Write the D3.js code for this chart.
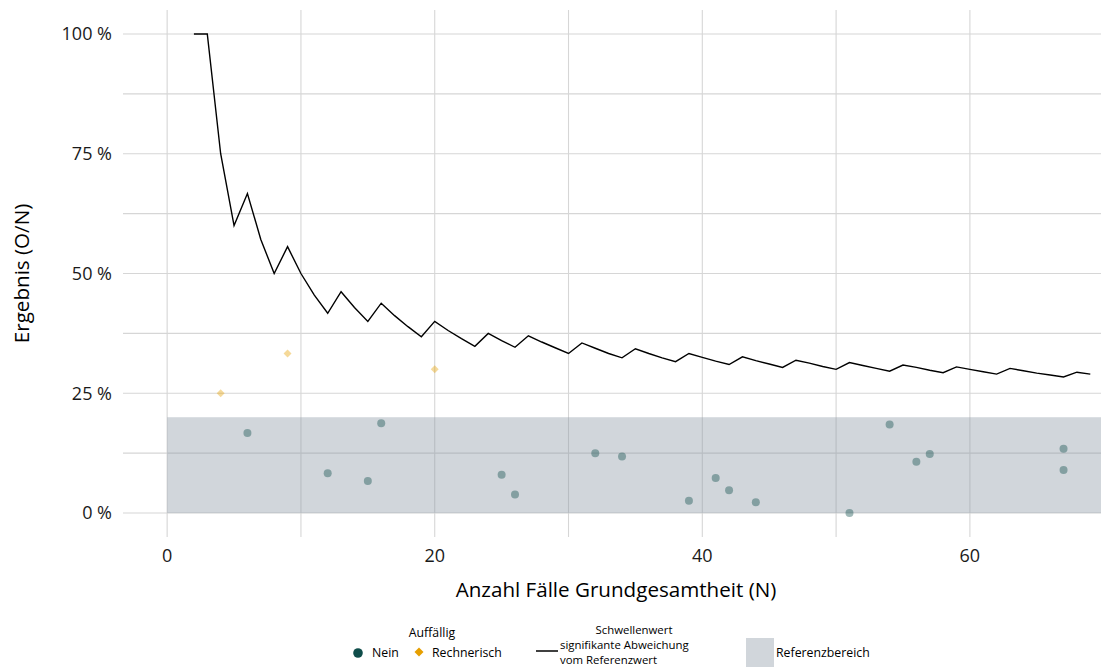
<!DOCTYPE html>
<html>
<head>
<meta charset="utf-8">
<script src="https://cdn.jsdelivr.net/npm/d3@7/dist/d3.min.js"></script>
<style>
  html, body { margin: 0; padding: 0; background: #fff; }
  svg { display: block; font-family: "Open Sans", Lato, sans-serif; }
</style>
</head>
<body>
<svg id="chart" width="1102" height="669"></svg>
<script>
// ---- data ----
const thresholdN = [2,3,4,5,6,7,8,9,10,11,12,13,14,15,16,17,18,19,20,21,22,23,24,25,26,27,28,29,30,31,32,33,34,35,36,37,38,39,40,41,42,43,44,45,46,47,48,49,50,51,52,53,54,55,56,57,58,59,60,61,62,63,64,65,66,67,68,69];
const thresholdValues = [100,100,75,60,66.7,57.1,50,55.6,50,45.5,41.7,46.2,42.9,40,43.8,41.2,38.9,36.8,40,38.1,36.4,34.8,37.5,36,34.6,37,35.7,34.5,33.3,35.5,34.4,33.3,32.4,34.3,33.3,32.4,31.6,33.3,32.5,31.7,31,32.6,31.8,31.1,30.4,31.9,31.3,30.6,30,31.4,30.8,30.2,29.6,30.9,30.4,29.8,29.3,30.5,30,29.5,29,30.2,29.7,29.2,28.8,28.4,29.4,29];

const neinN = [6,12,15,16,25,26,32,34,39,41,42,44,51,54,56,57,67,67];
const neinValues = [16.7,8.3,6.7,18.75,8,3.85,12.5,11.8,2.56,7.3,4.76,2.27,0,18.5,10.7,12.3,13.4,9.0];

const rechN = [4,9,20];
const rechValues = [25,33.3,30];

const referenceRange = [0, 20];

const xTicks = [0,20,40,60];
const xGrid = [0,10,20,30,40,50,60];
const yTicks = [0,25,50,75,100];
const yTickLabels = ["0 %","25 %","50 %","75 %","100 %"];
const yGrid = [0,12.5,25,37.5,50,62.5,75,87.5,100];

const xTitle = "Anzahl Fälle Grundgesamtheit (N)";
const yTitle = "Ergebnis (O/N)";

// ---- layout ----
const svg = d3.select("#chart");
const pLeft = 123, pRight = 1101, pTop = 10, pBottom = 537;
const x = d3.scaleLinear().domain([-3.3, 69.8]).range([pLeft, pRight]);
const y = d3.scaleLinear().domain([-5, 105]).range([pBottom, pTop]);

const gridColor = "#d6d6d6";

// grid
svg.append("g").selectAll("line").data(yGrid).join("line")
  .attr("x1", pLeft).attr("x2", pRight)
  .attr("y1", d => y(d)).attr("y2", d => y(d))
  .attr("stroke", gridColor).attr("stroke-width", 1.1);
svg.append("g").selectAll("line").data(xGrid).join("line")
  .attr("x1", d => x(d)).attr("x2", d => x(d))
  .attr("y1", pTop).attr("y2", pBottom)
  .attr("stroke", gridColor).attr("stroke-width", 1.1);

// reference band
svg.append("rect")
  .attr("x", x(0)).attr("width", pRight - x(0))
  .attr("y", y(referenceRange[1])).attr("height", y(referenceRange[0]) - y(referenceRange[1]))
  .attr("fill", "#8c99a4").attr("fill-opacity", 0.4);

// threshold line
const line = d3.line().x((d,i) => x(thresholdN[i])).y(d => y(d));
svg.append("path").datum(thresholdValues)
  .attr("d", line).attr("fill", "none")
  .attr("stroke", "#000").attr("stroke-width", 1.4).attr("stroke-linejoin", "miter");

// points
svg.append("g").selectAll("circle").data(neinValues).join("circle")
  .attr("cx", (d,i) => x(neinN[i])).attr("cy", d => y(d)).attr("r", 4)
  .attr("fill", "#0f4d4a").attr("fill-opacity", 0.4);

const diamond = d3.symbol().type(d3.symbolDiamond2).size(40);
svg.append("g").selectAll("path").data(rechValues).join("path")
  .attr("transform", (d,i) => `translate(${x(rechN[i])},${y(d)})`)
  .attr("d", diamond)
  .attr("fill", "#e69f00").attr("fill-opacity", 0.4);

// axes labels
svg.append("g").selectAll("text").data(yTicks).join("text")
  .attr("x", 112).attr("y", d => y(d)).attr("dy", "0.35em")
  .attr("text-anchor", "end").attr("font-size", 18).attr("fill", "#1a1a1a")
  .text((d,i) => yTickLabels[i]);
svg.append("g").selectAll("text").data(xTicks).join("text")
  .attr("x", d => x(d)).attr("y", 556).attr("dy", "0.35em")
  .attr("text-anchor", "middle").attr("font-size", 18).attr("fill", "#1a1a1a")
  .text(d => d);

svg.append("text").attr("x", 616).attr("y", 590).attr("dy", "0.35em")
  .attr("text-anchor", "middle").attr("font-size", 20.6).attr("fill", "#000")
  .text(xTitle);
svg.append("text")
  .attr("transform", `translate(22,${(pTop+pBottom)/2}) rotate(-90)`)
  .attr("dy", "0.35em").attr("text-anchor", "middle")
  .attr("font-size", 20.6).attr("fill", "#000")
  .text(yTitle);

// legend
const lg = svg.append("g").attr("font-size", 12.3).attr("fill", "#000");
lg.append("text").attr("x", 432).attr("y", 633).attr("dy", "0.35em").attr("text-anchor", "middle").text("Auffällig");
lg.append("circle").attr("cx", 358).attr("cy", 653).attr("r", 4.8).attr("fill", "#0f4d4a");
lg.append("text").attr("x", 372).attr("y", 653).attr("dy", "0.35em").text("Nein");
lg.append("path").attr("transform", "translate(419,652)")
  .attr("d", d3.symbol().type(d3.symbolDiamond2).size(52)).attr("fill", "#e69f00");
lg.append("text").attr("x", 432).attr("y", 653).attr("dy", "0.35em").text("Rechnerisch");

const lg2 = lg.append("g").attr("font-size", 11.4);
lg2.append("text").attr("x", 634).attr("y", 630).attr("dy", "0.35em").attr("text-anchor", "middle").text("Schwellenwert");
lg2.append("line").attr("x1", 536).attr("x2", 558).attr("y1", 651).attr("y2", 651)
  .attr("stroke", "#000").attr("stroke-width", 1.5);
lg2.append("text").attr("x", 560).attr("y", 645).attr("dy", "0.35em").text("signifikante Abweichung");
lg2.append("text").attr("x", 560).attr("y", 660).attr("dy", "0.35em").text("vom Referenzwert");

lg.append("rect").attr("x", 746).attr("y", 638).attr("width", 28).attr("height", 29)
  .attr("fill", "#8c99a4").attr("fill-opacity", 0.4);
lg.append("text").attr("x", 776).attr("y", 653).attr("dy", "0.35em").text("Referenzbereich");
</script>
</body>
</html>
